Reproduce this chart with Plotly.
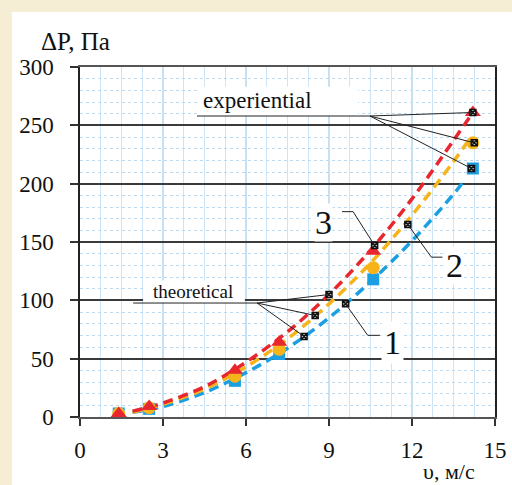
import plotly.graph_objects as go

# ---- data ----
v_exp = [1.4, 2.5, 5.6, 7.2, 10.6, 14.2]
dp_exp_1 = [3, 7, 31, 54, 118, 213]     # blue squares
dp_exp_2 = [3, 8, 35, 58, 128, 235]     # orange circles
dp_exp_3 = [3, 9, 40, 64, 142, 261]     # red triangles

v_th_1 = [1.9, 3, 4.5, 6, 7.5, 9, 10.5, 12, 13.5, 13.9]
dp_th_1 = [4, 9, 21, 38, 59, 85, 116, 151, 191, 203]
v_th_2 = [1.9, 3, 4.5, 6, 7.5, 9, 10.5, 12, 13.5, 14.1]
dp_th_2 = [4, 11, 24, 43, 67, 97, 132, 173, 219, 239]
v_th_3 = [1.9, 3, 4.5, 6, 7.5, 9, 10.5, 12, 13.5, 14.2]
dp_th_3 = [5, 12, 26, 47, 73, 105, 143, 187, 237, 261]

# small black pointer markers
mark_v = [9.0, 10.65, 14.2, 8.5, 11.85, 14.25, 8.1, 9.6, 14.15]
mark_dp = [105, 147, 261, 87, 165, 235, 69, 97, 213]

x_ticks = [0, 3, 6, 9, 12, 15]
y_ticks = [0, 50, 100, 150, 200, 250, 300]

RED = "#e8262e"
ORANGE = "#f6b41a"
BLUE = "#1c9fe2"
SERIF = "Liberation Serif, Times New Roman, DejaVu Serif, serif"

fig = go.Figure()

dash = "10px,6px"
fig.add_trace(go.Scatter(x=v_th_1, y=dp_th_1, mode="lines", line=dict(color=BLUE, width=3.5, dash=dash, shape="spline")))
fig.add_trace(go.Scatter(x=v_th_2, y=dp_th_2, mode="lines", line=dict(color=ORANGE, width=3.5, dash=dash, shape="spline")))
fig.add_trace(go.Scatter(x=v_th_3, y=dp_th_3, mode="lines", line=dict(color=RED, width=3.5, dash=dash, shape="spline")))

fig.add_trace(go.Scatter(x=v_exp, y=dp_exp_1, mode="markers", marker=dict(symbol="square", color=BLUE, size=12)))
fig.add_trace(go.Scatter(x=v_exp, y=dp_exp_2, mode="markers", marker=dict(symbol="circle", color=ORANGE, size=13)))
fig.add_trace(go.Scatter(x=v_exp, y=dp_exp_3, mode="markers", marker=dict(symbol="triangle-up", color=RED, size=14)))

shapes = []
# page white sheet over beige background
shapes.append(dict(type="rect", xref="paper", yref="paper", x0=-0.164, x1=1.05, y0=-0.2, y1=1.157,
                   fillcolor="white", line=dict(width=0), layer="below"))
# white label boxes (cover the grid)
shapes.append(dict(type="rect", xref="x", yref="y", x0=4.23, x1=10.05, y0=258, y1=283,
                   fillcolor="white", line=dict(width=0), layer="above"))
shapes.append(dict(type="rect", xref="x", yref="y", x0=2.28, x1=5.96, y0=98, y1=117,
                   fillcolor="white", line=dict(width=0), layer="above"))

def seg(x0, y0, x1, y1, w=1):
    shapes.append(dict(type="line", xref="x", yref="y", x0=x0, y0=y0, x1=x1, y1=y1,
                       line=dict(color="#222", width=w)))

# experiential leaders
seg(4.23, 258, 10.48, 258)
seg(10.48, 258, 14.2, 261)
seg(10.48, 258, 14.25, 235)
seg(10.48, 258, 14.15, 213)
# theoretical leaders
seg(1.92, 97.7, 6.4, 97.7)
seg(6.4, 97.7, 9.0, 105)
seg(6.4, 97.7, 8.5, 87)
seg(6.4, 97.7, 8.1, 69)
# label 3
seg(9.47, 176, 9.87, 176)
seg(9.87, 176, 10.65, 147)
# label 2
seg(11.85, 165, 12.7, 137)
seg(12.7, 137, 13.1, 137)
# label 1
seg(9.6, 97, 10.4, 70)
seg(10.4, 70, 10.84, 70)

fig.add_trace(go.Scatter(x=mark_v, y=mark_dp, mode="markers",
                         marker=dict(symbol="square-x", color="#d0d0d0", size=6,
                                     line=dict(color="#111", width=1.5))))

annotations = [
    dict(text="experiential", x=6.4, y=271, xref="x", yref="y", showarrow=False,
         font=dict(family=SERIF, size=23, color="#111")),
    dict(text="theoretical", x=4.1, y=108, xref="x", yref="y", showarrow=False,
         font=dict(family=SERIF, size=19, color="#111")),
    dict(text="3", x=8.8, y=167, xref="x", yref="y", showarrow=False,
         font=dict(family=SERIF, size=34, color="#111"), bgcolor="white", borderpad=0),
    dict(text="2", x=13.55, y=130, xref="x", yref="y", showarrow=False,
         font=dict(family=SERIF, size=34, color="#111"), bgcolor="white", borderpad=0),
    dict(text="1", x=11.3, y=64, xref="x", yref="y", showarrow=False,
         font=dict(family=SERIF, size=34, color="#111"), bgcolor="white", borderpad=2),
    dict(text="ΔP, Па", x=-0.012, y=1.073, xref="paper", yref="paper", xanchor="center", yanchor="middle",
         showarrow=False, font=dict(family=SERIF, size=25, color="#111")),
    dict(text="υ, м/с", x=0.89, y=-0.157, xref="paper", yref="paper", xanchor="center", yanchor="middle",
         showarrow=False, font=dict(family=SERIF, size=22, color="#111")),
]

fig.update_layout(
    width=512, height=485,
    margin=dict(l=80, r=17, t=67, b=68, autoexpand=False),
    paper_bgcolor="#f6eed4",
    plot_bgcolor="white",
    showlegend=False,
    shapes=shapes,
    annotations=annotations,
)

fig.update_xaxes(
    range=[0, 15], tickvals=x_ticks, ticktext=[str(t) for t in x_ticks],
    showgrid=True, gridcolor="#c6e0f4", gridwidth=1.5,
    minor=dict(dtick=0.75, tick0=0, showgrid=True, gridcolor="#cfe5f6", gridwidth=1, ticks=""),
    ticks="outside", ticklen=7, tickcolor="#333", tickwidth=1.5,
    showline=True, linecolor="#555", linewidth=1.5, mirror=True,
    zeroline=False, ticklabelstandoff=5, automargin=False,
    tickfont=dict(family=SERIF, size=23, color="#111"),
)
fig.update_yaxes(
    range=[0, 300], tickvals=y_ticks, ticktext=[str(t) for t in y_ticks],
    showgrid=True, gridcolor="#3a3a3a", gridwidth=1.5,
    minor=dict(dtick=10, tick0=0, showgrid=True, gridcolor="#bcd9f0", gridwidth=1, griddash="dot", ticks=""),
    ticks="outside", ticklen=8, tickcolor="#333", tickwidth=1.5,
    showline=True, linecolor="#222", linewidth=1.5, mirror=True,
    zeroline=False, ticklabelstandoff=12, automargin=False,
    tickfont=dict(family=SERIF, size=23, color="#111"),
)

fig.write_html(
    "out.html",
    config={"displayModeBar": False},
    post_script="document.body.style.margin='0';document.body.style.overflow='hidden';"
                "document.body.style.background='#f6eed4';",
)
